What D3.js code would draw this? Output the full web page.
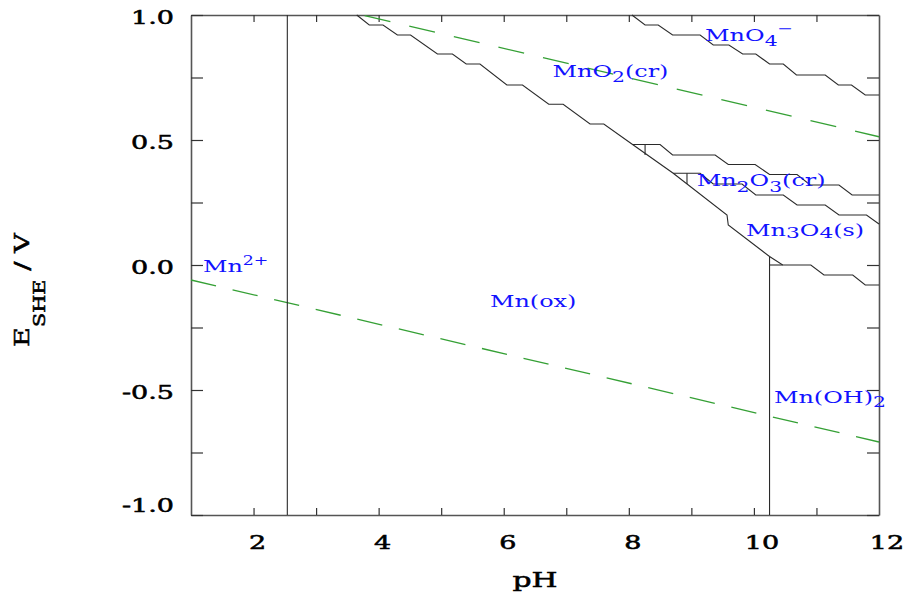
<!DOCTYPE html>
<html lang="en">
<head>
<meta charset="UTF-8">
<title>Mn Pourbaix</title>
<style>
  body { margin: 0; background: #fff; }
  svg { display: block; }
</style>
</head>
<body>
<script src="https://d3js.org/d3.v7.min.js"></script>
<script>
// boundary lines, pH and E (V vs SHE)
var mno4_pH = [8.05, 8.26, 8.47, 8.70, 9.14, 9.35, 9.60, 9.82, 10.03, 10.25, 10.47, 10.68, 11.14, 11.35, 11.56, 11.78, 12];
var mno4_E = [1.0, 0.96, 0.96, 0.92, 0.92, 0.88, 0.88, 0.844, 0.844, 0.804, 0.804, 0.76, 0.76, 0.72, 0.72, 0.68, 0.68];

var lower_pH = [3.65, 3.85, 4.07, 4.30, 4.51, 4.94, 5.18, 5.40, 5.62, 6.05, 6.30, 6.72, 6.95, 7.38, 7.60, 8.06, 8.71, 9.57, 9.59, 10.25, 10.46, 10.91, 11.12, 11.58, 11.78, 12];
var lower_E = [1.0, 0.96, 0.96, 0.92, 0.92, 0.844, 0.844, 0.804, 0.804, 0.72, 0.72, 0.643, 0.643, 0.564, 0.564, 0.482, 0.367, 0.20, 0.16, 0.034, 0.0, 0.0, -0.04, -0.04, -0.08, -0.08];

var mn2o3_pH = [8.06, 8.50, 8.70, 9.38, 9.59, 10.02, 10.25, 10.69, 10.90, 11.36, 11.57, 12];
var mn2o3_E = [0.482, 0.482, 0.44, 0.44, 0.402, 0.402, 0.362, 0.362, 0.32, 0.32, 0.28, 0.28];

var mn3o4_pH = [8.71, 9.14, 9.35, 9.81, 10.03, 10.47, 10.69, 11.14, 11.36, 11.80, 12];
var mn3o4_E = [0.367, 0.367, 0.324, 0.324, 0.28, 0.28, 0.24, 0.24, 0.20, 0.20, 0.164];

var hyd_pH = [10.25, 10.46];
var hyd_E = [0.0, 0.0];

// vertical boundaries: pH, E top, E bottom
var vert_pH = [2.54, 10.25, 8.26, 8.93];
var vert_top = [1.0, 0.034, 0.482, 0.367];
var vert_bot = [-1.0, -1.0, 0.44, 0.324];

// water stability lines
var o2_pH = [3.73, 12];
var o2_E = [1.0, 0.513];
var h2_pH = [1, 12];
var h2_E = [-0.06, -0.708];

var xTicks = [2, 3, 4, 5, 6, 7, 8, 9, 10, 11];
var xLabels = ["2", "4", "6", "8", "10", "12"];
var yTicks = [-1, -0.75, -0.5, -0.25, 0, 0.25, 0.5, 0.75, 1];
var yLabels = ["-1.0", "-0.5", "0.0", "0.5", "1.0"];

var W = 906, H = 594;
var x0 = 191, x1 = 879, y0 = 15, y1 = 515;
var svg = d3.select('body').append('svg').attr('width', W).attr('height', H);

var x = d3.scaleLinear().domain([1, 12]).range([x0, x1]);
var y = d3.scaleLinear().domain([-1, 1]).range([y1, y0]);

var serif = 'DejaVu Serif';
var blue = '#1212ff';

// axes, ticks pointing inward
function styleAxis(g) {
    g.select('.domain').attr('stroke', '#555').attr('stroke-width', 1.6);
    g.selectAll('.tick line').attr('stroke', '#333').attr('stroke-width', 1.2);
    g.selectAll('.tick text').remove();
}
svg.append('g').attr('transform', 'translate(0,' + y1 + ')')
    .call(d3.axisBottom(x).tickValues(xTicks).tickSizeInner(-7).tickSizeOuter(0)).call(styleAxis);
svg.append('g').attr('transform', 'translate(0,' + y0 + ')')
    .call(d3.axisTop(x).tickValues(xTicks).tickSizeInner(-7).tickSizeOuter(0)).call(styleAxis);
svg.append('g').attr('transform', 'translate(' + x0 + ',0)')
    .call(d3.axisLeft(y).tickValues(yTicks).tickSizeInner(-12).tickSizeOuter(0)).call(styleAxis);
svg.append('g').attr('transform', 'translate(' + x1 + ',0)')
    .call(d3.axisRight(y).tickValues(yTicks).tickSizeInner(-12).tickSizeOuter(0)).call(styleAxis);

// text helper: parts = [[str, baseline offset, size]], stretched horizontally
function addText(px, py, parts, size, color, anchor, sx, rot, heavy) {
    var tr = 'translate(' + px + ',' + py + ')' + (rot ? ' rotate(' + rot + ')' : '') + ' scale(' + sx + ',1)';
    var t = svg.append('g').attr('transform', tr).append('text')
        .attr('font-family', serif).attr('font-size', size)
        .attr('fill', color).attr('text-anchor', anchor);
    if (heavy) t.attr('stroke', color).attr('stroke-width', 0.55);
    var prev = 0;
    parts.forEach(function (p) {
        t.append('tspan').text(p[0]).attr('dy', p[1] - prev).attr('font-size', p[2] || size);
        prev = p[1];
    });
}

// tick labels
xLabels.forEach(function (s) {
    addText(x(+s) + 4 * s.length, 549, [[s, 0]], 19, '#000', 'middle', 1.42, 0, true);
});
yLabels.forEach(function (s) {
    var v = +s;
    var off = v === -1 ? -3 : 9;
    addText(174, y(v) + off, [[s, 0]], 19, '#000', 'end', 1.42, 0, true);
});

// axis titles
addText(535, 587, [['pH', 0]], 21, '#000', 'middle', 1.42, 0, true);
addText(29, 347, [['E', 0], ['SHE', 16, 16], [' / V', 0]], 21, '#000', 'start', 1.3, -90, true);

var line = d3.line().x(function (d) { return x(d[0]); }).y(function (d) { return y(d[1]); });

// water lines
svg.append('path').datum(d3.zip(o2_pH, o2_E)).attr('d', line)
    .attr('fill', 'none').attr('stroke', '#35a035').attr('stroke-width', 1.3)
    .attr('stroke-dasharray', '26.4,19.4').attr('stroke-dashoffset', -3);
svg.append('path').datum(d3.zip(h2_pH, h2_E)).attr('d', line)
    .attr('fill', 'none').attr('stroke', '#35a035').attr('stroke-width', 1.3)
    .attr('stroke-dasharray', '25.7,17');

// boundaries
[[mno4_pH, mno4_E], [lower_pH, lower_E], [mn2o3_pH, mn2o3_E], [mn3o4_pH, mn3o4_E], [hyd_pH, hyd_E]]
    .forEach(function (b) {
        svg.append('path').datum(d3.zip(b[0], b[1])).attr('d', line)
            .attr('fill', 'none').attr('stroke', '#2a2a2a').attr('stroke-width', 1.1);
    });
vert_pH.forEach(function (p, i) {
    svg.append('line')
        .attr('x1', x(p)).attr('x2', x(p))
        .attr('y1', y(vert_top[i])).attr('y2', y(vert_bot[i]))
        .attr('stroke', '#2a2a2a').attr('stroke-width', 1.1);
});

// field labels
addText(x(9.22), y(0.896), [['MnO', 0], ['4', 5, 14], ['\u2212', -8, 13]], 16.5, blue, 'start', 1.45);
addText(x(6.78), y(0.752), [['MnO', 0], ['2', 5, 14], ['(cr)', 0]], 16.5, blue, 'start', 1.45);
addText(x(9.085), y(0.316), [['Mn', 0], ['2', 6, 14], ['O', 0], ['3', 6, 14], ['(cr)', 0]], 16.5, blue, 'start', 1.45);
addText(x(9.874), y(0.116), [['Mn', 0], ['3', 1.5, 15], ['O', 0], ['4', 1.5, 15], ['(s)', 0]], 16.5, blue, 'start', 1.45);
addText(x(1.19), y(-0.028), [['Mn', 0], ['2+', -7, 12]], 16.5, blue, 'start', 1.45);
addText(x(5.78), y(-0.168), [['Mn(ox)', 0]], 16.5, blue, 'start', 1.45);
addText(x(10.32), y(-0.552), [['Mn(OH)', 0], ['2', 4, 14]], 16.5, blue, 'start', 1.45);
</script>
</body>
</html>
